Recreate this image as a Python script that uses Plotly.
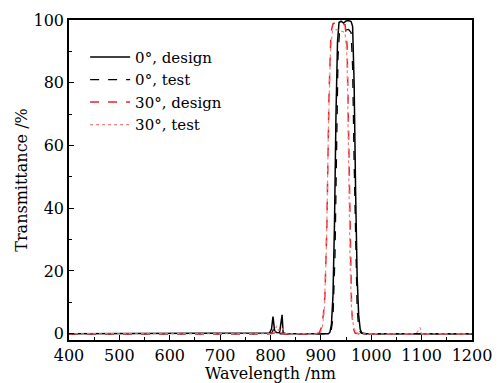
import plotly.graph_objects as go

# 0°, design (black solid)
wl_0_design = [400, 790, 798, 802, 805, 808, 812, 818, 821, 823, 825, 830, 900, 915, 918, 921,
               924, 927, 930, 933, 936, 940, 945, 950, 955, 960, 963, 966, 969, 972, 975,
               978, 981, 990, 1100, 1200]
t_0_design = [0, 0, 0.2, 1.5, 5.5, 1.0, 0.4, 0.3, 3.0, 6.0, 0.3, 0, 0, 0, 0.5, 3,
              12, 35, 70, 93, 99.2, 99.6, 99.0, 99.7, 99.8, 99.5, 98, 80, 45, 18, 6,
              1.5, 0.2, 0, 0, 0]

# 0°, test (black dashed)
wl_0_test = [400, 795, 803, 806, 809, 815, 900, 916, 920, 924, 928, 931, 934, 937, 942,
             948, 955, 960, 963, 966, 969, 972, 975, 979, 985, 1100, 1200]
t_0_test = [0, 0, 0.3, 1.5, 0.3, 0, 0, 0, 0.5, 5, 25, 60, 88, 96.5, 97.2,
            96.8, 97.0, 96.0, 85, 55, 25, 8, 2, 0.3, 0, 0, 0]

# 30°, design (red dashed)
wl_30_design = [400, 800, 808, 812, 816, 830, 890, 897, 901, 905, 908, 912, 916, 920, 924,
                930, 940, 948, 952, 955, 958, 961, 964, 968, 975, 1090, 1095, 1100, 1200]
t_30_design = [0, 0, 0.3, 1.5, 0.3, 0, 0, 0.3, 2, 6, 12, 35, 75, 96, 98.8,
               99.2, 98.6, 98.5, 92, 60, 25, 8, 2, 0.2, 0, 0, 0.8, 0, 0]

# 30°, test (red dotted)
wl_30_test = [400, 800, 808, 812, 816, 822, 830, 892, 899, 903, 907, 911, 915, 919, 923,
              930, 940, 948, 952, 955, 958, 961, 965, 970, 978, 1088, 1094, 1097, 1100, 1200]
t_30_test = [0, 0, 0.5, 2.5, 1.0, 2.0, 0, 0, 0.3, 2, 8, 28, 65, 90, 96.5,
             97.0, 96.5, 96.0, 88, 55, 22, 7, 2, 0.3, 0, 0, 1.0, 2.0, 0, 0]

x_ticks = [400, 500, 600, 700, 800, 900, 1000, 1100, 1200]
y_ticks = [0, 20, 40, 60, 80, 100]

FONT = "DejaVu Serif"

fig = go.Figure()
fig.add_trace(go.Scatter(x=wl_0_design, y=t_0_design, mode="lines", name="0°, design",
                         line=dict(color="black", width=1.5)))
fig.add_trace(go.Scatter(x=wl_0_test, y=t_0_test, mode="lines", name="0°, test",
                         line=dict(color="black", width=1.3, dash="dash")))
fig.add_trace(go.Scatter(x=wl_30_design, y=t_30_design, mode="lines", name="30°, design",
                         line=dict(color="#e8202a", width=1.5, dash="dash")))
fig.add_trace(go.Scatter(x=wl_30_test, y=t_30_test, mode="lines", name="30°, test",
                         line=dict(color="#f08080", width=1.2, dash="dot")))

fig.update_layout(
    width=498, height=383,
    margin=dict(l=69, r=26, t=20, b=43),
    paper_bgcolor="white", plot_bgcolor="white",
    font=dict(family=FONT, size=16, color="black"),
    showlegend=True,
    legend=dict(x=0.04, y=0.935, xanchor="left", yanchor="top",
                bgcolor="rgba(0,0,0,0)", font=dict(family=FONT, size=15),
                tracegroupgap=0, itemwidth=40),
)
fig.update_xaxes(
    range=[400, 1200], tickmode="array", tickvals=x_ticks, automargin=False,
    ticks="inside", ticklen=5, tickwidth=1.2, tickcolor="black",
    minor=dict(ticks="inside", ticklen=3, dtick=50, tickcolor="black", tickwidth=1),
    showline=True, linecolor="black", linewidth=1.5, mirror=True,
    showgrid=False, zeroline=False,
    title=dict(text="Wavelength /nm", standoff=0, font=dict(family=FONT, size=16)),
)
fig.update_yaxes(
    range=[-2, 100], tickmode="array", tickvals=y_ticks, automargin=False,
    ticks="inside", ticklen=5, tickwidth=1.2, tickcolor="black",
    minor=dict(ticks="inside", ticklen=3, dtick=10, tickcolor="black", tickwidth=1),
    showline=True, linecolor="black", linewidth=1.5, mirror=True,
    showgrid=False, zeroline=False,
    title=dict(text="Transmittance /%", standoff=2, font=dict(family=FONT, size=16)),
)

fig.write_html("out.html", config={"displayModeBar": False},
               post_script="document.body.style.margin='0';document.body.style.padding='0';"
                           "document.documentElement.style.overflow='hidden';")
